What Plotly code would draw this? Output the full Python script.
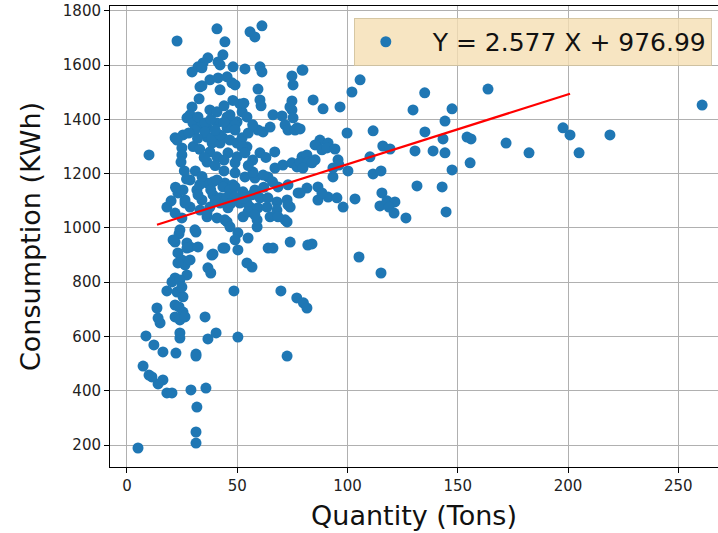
import plotly.graph_objects as go

# Monthly energy consumption vs. processed quantity, with a least-squares fit
quantity_tons = [
    # sparse low / left
    5.0, 31.3, 31.3, 31.7, 29.0, 35.8, 18.1, 20.4, 16.3, 14.1, 10.0, 11.3, 7.3, 16.3, 12.2,
    8.6, 22.2, 31.3, 31.3, 24.0, 24.0, 36.7, 40.4, 50.3, 72.6, 35.4, 15.0, 14.1, 13.6, 18.1,
    48.5, 69.8, 77.0, 80.0, 81.6, 38.0, 54.4, 56.7, 44.4, 39.0, 64.0, 66.2, 74.0, 82.0, 31.3,
    59.0, 72.6, 83.9, 105.2, 115.2,
    # left column 600-1000
    23.6, 21.8, 27.2, 28.6, 32.2, 23.1, 24.9, 26.3, 23.1, 27.2, 21.8, 20.4, 24.0, 22.7, 25.4,
    24.9, 21.8, 25.4, 23.6, 21.8, 24.0, 26.3, 20.9, 27.2, 28.6, 38.5, 43.5, 36.7,
    # middle band 950-1200
    18.1, 21.8, 26.3, 28.6, 34.0, 37.6, 42.2, 45.8, 51.2, 55.8, 59.4, 63.5, 68.0, 72.6, 74.0,
    77.6, 71.7, 36.3, 40.8, 44.4, 52.6, 59.0, 64.9, 24.0, 30.8, 28.6, 23.1, 25.4, 31.7, 36.3,
    39.0, 44.4, 48.1, 52.6, 26.3, 32.2, 24.9, 40.8, 43.5, 46.7, 39.0, 42.2, 45.4, 49.0, 33.1,
    36.3, 45.4, 46.7, 49.0, 53.5, 58.0, 63.9, 68.5, 73.0, 81.6, 86.6, 86.6, 91.2, 49.0, 54.4,
    56.7, 60.3, 63.9, 68.0, 73.0, 68.5, 54.9, 58.0, 50.3, 54.9, 49.0, 50.3,
    22.0, 20.0, 27.0, 33.0, 38.0, 40.0, 47.0, 53.0, 58.0, 62.0, 66.0, 26.0, 31.0, 34.0, 44.0,
    # upper band 1200-1750
    22.7, 40.8, 44.4, 55.8, 58.0, 61.2, 43.5, 41.3, 36.7, 34.5, 32.2, 29.5, 48.1, 53.5, 60.3,
    61.2, 74.8, 75.3, 79.4, 37.6, 41.3, 45.4, 47.6, 33.1, 42.2, 59.4, 60.3, 60.8, 32.7, 29.5,
    28.6, 37.6, 40.8, 51.2, 52.2, 54.4, 66.2, 70.3, 74.8, 74.8, 75.3, 77.1, 27.2, 29.9, 33.1,
    36.3, 45.4, 46.7, 49.9, 59.4, 61.7, 64.9, 21.8, 25.4, 24.9, 24.9, 24.5, 10.0, 36.3, 38.6,
    42.2, 43.5, 46.7, 49.9, 52.2, 54.4, 37.6, 40.8, 45.8, 36.3, 60.3, 49.0, 49.9, 57.1, 61.7,
    67.1, 70.7, 74.8, 79.4, 77.1, 81.6, 34.0, 42.2, 34.0, 32.2, 35.4, 40.8, 45.4, 46.7, 49.0,
    22.7, 30.8, 35.4, 38.5, 42.2, 45.4, 49.0, 73.9, 71.7, 73.0, 76.2, 87.5, 49.0, 52.2, 53.5,
    78.5, 81.6, 85.3, 85.3, 91.2,
    30.0, 33.0, 35.0, 40.0, 44.0, 57.0, 55.0, 63.0, 67.0, 28.0, 32.0, 40.0, 44.0, 38.0, 55.0,
    57.0, 53.0, 44.0, 48.0,
    # right side
    79.8, 105.7, 102.0, 84.4, 88.9, 96.6, 135.0, 129.7, 147.4, 163.7, 144.2, 99.8, 111.6, 135.1,
    143.3, 154.2, 156.0, 155.6, 130.6, 138.8, 144.2, 147.4, 116.0, 119.3, 110.2, 111.6, 115.2,
    100.2, 131.5, 142.9, 144.7, 115.6, 114.7, 117.9, 121.5, 121.1, 126.5, 118.8, 103.4, 98.0,
    95.2, 88.4, 78.5, 88.4, 90.7, 94.3, 95.7, 96.1, 82.1, 83.9, 79.8, 93.4, 93.4, 78.5, 171.9,
    182.3, 197.7, 200.9, 205.0, 219.0, 260.8,
]

consumption_kwh = [
    # sparse low / left
    189, 248, 207, 340, 403, 410, 392, 392, 440, 425, 458, 451, 491, 543, 569,
    602, 539, 535, 528, 594, 613, 591, 613, 598, 528, 672, 650, 668, 705, 768,
    768, 768, 742, 724, 705, 834, 871, 856, 926, 904, 926, 926, 948, 937, 985,
    1004, 1022, 941, 893, 834,
    # left column 600-1000
    978, 948, 945, 930, 930, 908, 882, 864, 871, 827, 816, 801, 808, 764, 746,
    782, 716, 690, 709, 672, 661, 672, 956, 926, 882, 900, 926, 853,
    # middle band 950-1200
    1077, 1055, 1103, 1077, 1103, 1077, 1092, 1074, 1092, 1077, 1074, 1077, 1096, 1103, 1077,
    1129, 1030, 1041, 1037, 1030, 1041, 1030, 1041, 993, 993, 1177, 1129, 1140, 1140, 1166,
    1170, 1166, 1159, 1133, 1092, 1122, 1037, 1177, 1151, 1140, 1122, 1111, 1114, 1151, 1066,
    1055, 1022, 1004, 1203, 1188, 1184, 1188, 1151, 1159, 1147, 1151, 1103, 1114, 1114, 1092,
    1122, 1111, 1111, 1066, 1085, 1041, 1059, 1048, 982, 963, 956, 919,
    1150, 1100, 1180, 1160, 1140, 1100, 1090, 1110, 1140, 1150, 1170, 1210, 1210, 1190, 1210,
    # upper band 1200-1750
    1689, 1734, 1686, 1723, 1704, 1745, 1638, 1612, 1627, 1608, 1594, 1575, 1594, 1586, 1594,
    1575, 1560, 1527, 1582, 1546, 1553, 1557, 1535, 1520, 1509, 1512, 1472, 1450, 1476, 1446,
    1417, 1435, 1428, 1457, 1428, 1409, 1417, 1413, 1468, 1435, 1406, 1369, 1406, 1387, 1372,
    1372, 1409, 1372, 1391, 1361, 1354, 1372, 1332, 1343, 1295, 1269, 1243, 1269, 1335, 1313,
    1313, 1332, 1324, 1313, 1332, 1299, 1280, 1262, 1277, 1243, 1277, 1240, 1262, 1206, 1195,
    1221, 1232, 1240, 1262, 1225, 1251, 1590, 1601, 1524, 1409, 1387, 1387, 1398, 1417, 1380,
    1324, 1361, 1354, 1332, 1343, 1369, 1527, 1446, 1380, 1361, 1361, 1324, 1361, 1299, 1277,
    1243, 1269, 1306, 1251, 1313,
    1300, 1290, 1260, 1230, 1250, 1250, 1230, 1260, 1280, 1350, 1330, 1360, 1390, 1400, 1350,
    1380, 1460, 1450, 1470,
    # right side
    1582, 1546, 1501, 1472, 1439, 1446, 1498, 1435, 1439, 1512, 1394, 1350, 1358, 1354,
    1328, 1335, 1328, 1240, 1284, 1284, 1277, 1214, 1302, 1291, 1262, 1199, 1210,
    1210, 1155, 1151, 1059, 1129, 1081, 1100, 1096, 1055, 1037, 1077, 1107, 1077,
    1111, 1129, 1129, 1288, 1295, 1291, 1251, 1232, 1243, 1240, 1221, 1188, 1221, 1365, 1313,
    1277, 1369, 1343, 1277, 1343, 1453,
]

# Fitted line Y = slope * X + intercept, drawn over the fitted range
slope = 2.577
intercept = 976.99
fit_x = [13.6, 200.9]
fit_y = [slope * x + intercept for x in fit_x]

x_ticks = [0, 50, 100, 150, 200, 250]
y_ticks = [200, 400, 600, 800, 1000, 1200, 1400, 1600, 1800]

font_family = "DejaVu Sans"
nbsp = "\u00a0"

fig = go.Figure()
fig.add_trace(go.Scatter(
    x=quantity_tons, y=consumption_kwh, mode="markers",
    marker=dict(color="#1f77b4", size=11, line=dict(width=0)),
    name=nbsp * 2 + f"Y = {slope} X + {intercept}",
    showlegend=True,
))
fig.add_trace(go.Scatter(
    x=fit_x, y=fit_y, mode="lines",
    line=dict(color="red", width=2.2),
    showlegend=False,
))

axis_common = dict(
    showgrid=True, gridcolor="#b0b0b0", gridwidth=1,
    showline=True, linecolor="black", linewidth=1,
    ticks="outside", ticklen=5, tickwidth=1, tickcolor="black",
    tickfont=dict(family=font_family, size=15, color="#222"),
    zeroline=False,
)

fig.update_layout(
    width=718, height=533,
    margin=dict(l=110, r=0, t=6, b=66),
    paper_bgcolor="white", plot_bgcolor="white",
    font=dict(family=font_family, color="#111"),
    xaxis=dict(
        **axis_common, mirror=True, range=[-7.7, 268.0], tickvals=x_ticks,
        title=dict(text="Quantity (Tons)", font=dict(family=font_family, size=27), standoff=12),
    ),
    yaxis=dict(
        **axis_common, mirror=False, range=[119, 1818], tickvals=y_ticks,
        title=dict(text="Consumption (KWh)", font=dict(family=font_family, size=27), standoff=14),
    ),
    legend=dict(
        x=0.401, y=0.974, xanchor="left", yanchor="top",
        bgcolor="rgba(245,222,179,0.8)", bordercolor="rgba(210,195,160,0.9)", borderwidth=1,
        font=dict(family=font_family, size=25, color="#111"),
        itemwidth=52,
    ),
)

fig.write_html("out.html")
